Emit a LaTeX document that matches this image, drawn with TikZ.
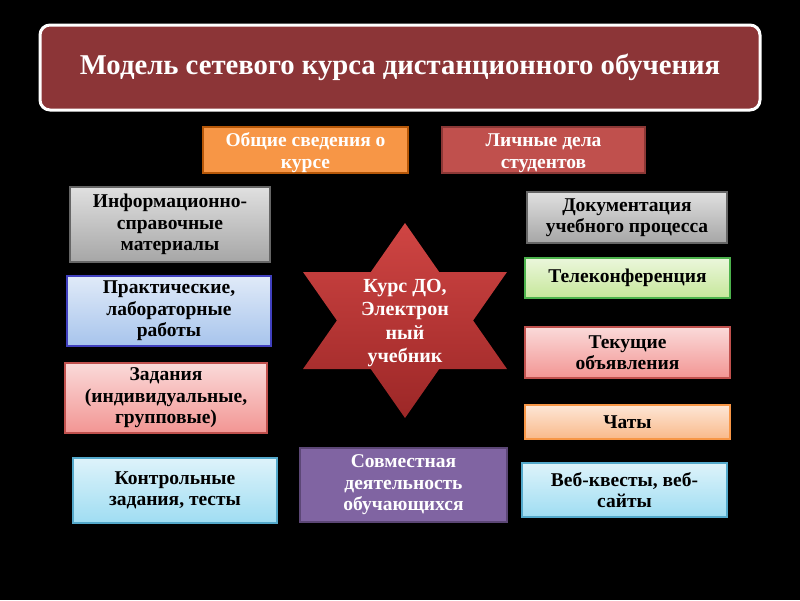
\documentclass[tikz,border=0pt]{standalone}
\usepackage{fontspec}
\setmainfont{Liberation Serif}
\begin{document}
\begin{tikzpicture}[x=1pt,y=-1pt,
  box/.style={rectangle, line width=1.5pt, inner sep=0pt, align=center,
    font=\bfseries\fontsize{19.5}{21.5}\selectfont},
  lbox/.style 2 args={box, draw=#1, top color=#2!35!white, bottom color=#2, text=black},
  dbox/.style 2 args={box, draw=#1, fill=#2, text=white},
]
\definecolor{titlered}{HTML}{8C3537}
\definecolor{borange}{HTML}{F79646}
\definecolor{dorange}{HTML}{B65708}
\definecolor{bred}{HTML}{C0504D}
\definecolor{dred}{HTML}{8C3836}
\definecolor{bpurple}{HTML}{8064A2}
\definecolor{dpurple}{HTML}{5C4776}
\definecolor{ggray}{HTML}{A6A6A6}
\definecolor{gblue}{HTML}{A7C4EC}
\definecolor{ggreen}{HTML}{C6E79A}
\definecolor{gpink}{HTML}{F29593}
\definecolor{gcyan}{HTML}{9FDDF2}
\definecolor{gorange}{HTML}{F9B98A}
\definecolor{startop}{HTML}{CF4543}
\definecolor{starbot}{HTML}{9C2727}
\useasboundingbox (0,0) rectangle (800,600);
\fill[black] (0,0) rectangle (800,600);
% title
\node[rectangle, rounded corners=10pt, draw=white, line width=3pt, fill=titlered,
  minimum width=720pt, minimum height=85pt, text=white,
  font=\bfseries\fontsize{28.7}{32}\selectfont] (title) at (400,67.5)
  {Модель сетевого курса дистанционного обучения};
% top boxes
\node[dbox={dorange}{borange}, minimum width=205pt, minimum height=46pt] (obsh) at (305.5,150) {};
\node[text=white, align=center, inner sep=0pt, font=\bfseries\fontsize{19.5}{22}\selectfont] (obshT) at (305.5,153) {Общие сведения о\\курсе};
\node[dbox={dred}{bred}, minimum width=203pt, minimum height=46pt] (lich) at (543.5,150) {};
\node[text=white, align=center, inner sep=0pt, font=\bfseries\fontsize{19.5}{22}\selectfont] (lichT) at (543.5,153) {Личные дела\\студентов};
% left column
\node[lbox={gray!80!black}{ggray}, minimum width=200pt, minimum height=75pt] (info) at (170,224.5) {Информационно-\\справочные\\материалы};
\node[lbox={blue!50!gray}{gblue}, minimum width=204pt, minimum height=70pt] (prak) at (169,311) {Практические,\\лабораторные\\работы};
\node[lbox={bred}{gpink}, minimum width=202pt, minimum height=70pt] (zad) at (166,398) {Задания\\(индивидуальные,\\групповые)};
\node[lbox={cyan!60!gray}{gcyan}, minimum width=204pt, minimum height=65pt] (kontr) at (175,490.5) {Контрольные\\задания, тесты};
% right column
\node[lbox={gray!80!black}{ggray}, minimum width=200pt, minimum height=51pt] (doc) at (627,217.5) {Документация\\учебного процесса};
\node[lbox={green!40!gray}{ggreen}, minimum width=205pt, minimum height=40pt] (tele) at (627.5,278) {Телеконференция};
\node[lbox={bred}{gpink}, minimum width=205pt, minimum height=51pt] (tek) at (627.5,352.5) {Текущие\\объявления};
\node[lbox={borange}{gorange}, minimum width=205pt, minimum height=34pt] (chat) at (627.5,422) {Чаты};
\node[lbox={cyan!60!gray}{gcyan}, minimum width=205pt, minimum height=54pt] (web) at (624.5,490) {Веб-квесты, веб-\\сайты};
% bottom middle
\node[dbox={dpurple}{bpurple}, minimum width=207pt, minimum height=74pt] (sovm) at (403.5,485) {Совместная\\деятельность\\обучающихся};
% star
\shade[top color=startop, bottom color=starbot]
  (405,223) -- (370.8,272) -- (303,272) -- (336.9,320.5) -- (303,369) -- (370.8,369)
  -- (405,418) -- (439.2,369) -- (507,369) -- (473.1,320.5) -- (507,272) -- (439.2,272) -- cycle;
\node[align=center, text=white, inner sep=0pt,
  font=\bfseries\fontsize{20}{23.5}\selectfont] (star) at (405,323)
  {Курс ДО,\\Электрон\\ный\\учебник};
\end{tikzpicture}
\end{document}
